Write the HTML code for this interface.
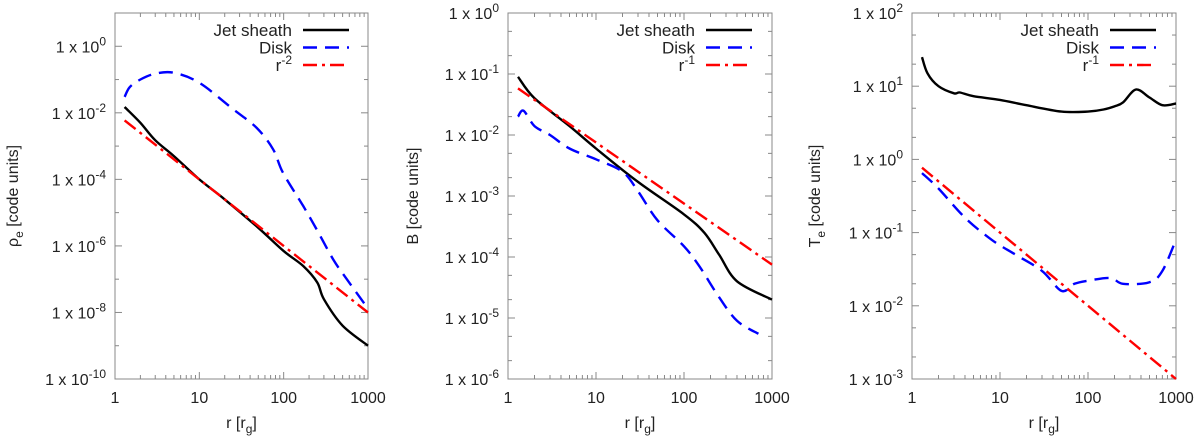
<!DOCTYPE html>
<html><head><meta charset="utf-8"><style>
html,body{margin:0;padding:0;background:#fff;}
svg{display:block;font-family:"Liberation Sans","DejaVu Sans",sans-serif;}
</style></head><body>
<svg id="chart" width="1200" height="442" viewBox="0 0 1200 442" xmlns="http://www.w3.org/2000/svg"></svg>
<script>
// ---- data (r in r_g, values in code units) ----
const rhoJetR = [1.3,2,3,5,10,20,50,100,170,250,300,500,1000];
const rhoJetV = [1.5e-2,5e-3,1.5e-3,5e-4,1e-4,2.5e-5,3.5e-6,7e-7,2.5e-7,8e-8,2.5e-8,4e-9,1e-9];
const rhoDiskR = [1.3,1.5,2,3,5,10,25,48,75,98,170,245,385,560,1000];
const rhoDiskV = [3e-2,6e-2,1e-1,1.5e-1,1.6e-1,8e-2,1.3e-2,3.5e-3,8e-4,1.6e-4,1.6e-5,3.2e-6,4e-7,1e-7,1.3e-8];
const rhoFitR = [1.3,1000];
const rhoFitV = [5.9e-3,1e-8];

const bJetR = [1.3,2,5,10,30,100,170,250,400,1000];
const bJetV = [9e-2,4e-2,1.4e-2,6e-3,1.7e-3,5e-4,2.5e-4,1.1e-4,4e-5,2e-5];
const bDiskR = [1.3,1.5,2,3,5,10,20,30,50,100,150,250,400,700];
const bDiskV = [2e-2,2.5e-2,1.4e-2,1e-2,6e-3,4e-3,2.5e-3,1.2e-3,4e-4,1.5e-4,7e-5,2.2e-5,9e-6,5.5e-6];
const bFitR = [1.3,1000];
const bFitV = [5.8e-2,7.5e-5];

const tJetR = [1.3,1.5,2,3,3.5,5,10,20,50,100,150,200,250,350,500,700,1000];
const tJetV = [25,15,10,8,8.2,7.3,6.5,5.5,4.5,4.5,4.8,5.3,6,9,7,5.5,5.8];
const tDiskR = [1.3,2,4,8,15,30,50,70,100,180,250,500,700,1000];
const tDiskV = [0.65,0.4,0.16,0.08,0.05,0.03,0.016,0.02,0.022,0.024,0.02,0.021,0.03,0.08];
const tFitR = [1.3,1000];
const tFitV = [0.77,1e-3];

const xTicks = [1,10,100,1000];
const rhoTicks = [0,-2,-4,-6,-8,-10];
const bTicks = [0,-1,-2,-3,-4,-5,-6];
const tTicks = [2,1,0,-1,-2,-3];

const NS="http://www.w3.org/2000/svg";
const svg=document.getElementById('chart');
function mk(tag,attrs,parent){const e=document.createElementNS(NS,tag);for(const k in attrs)e.setAttribute(k,attrs[k]);(parent||svg).appendChild(e);return e;}

function smoothPath(p){
  if(p.length<3)return 'M'+p.map(q=>q[0].toFixed(1)+','+q[1].toFixed(1)).join(' L');
  let d='M'+p[0][0].toFixed(1)+','+p[0][1].toFixed(1);
  for(let i=0;i<p.length-1;i++){
    const p0=p[i-1]||p[i],p1=p[i],p2=p[i+1],p3=p[i+2]||p2;
    const c1=[p1[0]+(p2[0]-p0[0])/6,p1[1]+(p2[1]-p0[1])/6];
    const c2=[p2[0]-(p3[0]-p1[0])/6,p2[1]-(p3[1]-p1[1])/6];
    d+=` C${c1[0].toFixed(1)},${c1[1].toFixed(1)} ${c2[0].toFixed(1)},${c2[1].toFixed(1)} ${p2[0].toFixed(1)},${p2[1].toFixed(1)}`;
  }
  return d;
}

function panel(o){
  const g=mk('g',{});
  
  
  const X=r=>o.x0+(Math.log10(r))/3*(o.x1-o.x0);
  const Y=v=>o.y0+(o.ymax-Math.log10(v))/(o.ymax-o.ymin)*(o.y1-o.y0);
  const fr=mk('rect',{x:o.x0,y:o.y0,width:o.x1-o.x0,height:o.y1-o.y0,fill:'none',stroke:'#888','stroke-width':1},g);
  
  
  for(let d=0;d<3;d++)for(let m=1;m<=9;m++){
    const xx=X(m*Math.pow(10,d));const L=m==1?7:4;
    mk('line',{x1:xx,x2:xx,y1:o.y1,y2:o.y1-L,stroke:'#888'},g);
    mk('line',{x1:xx,x2:xx,y1:o.y0,y2:o.y0+L,stroke:'#888'},g);
  }
  xTicks.forEach(t=>{
    const tx=mk('text',{x:X(t),y:o.y1+24,'text-anchor':'middle','font-size':16,fill:'#222'},g);
    tx.textContent=String(t);
    
    
  });
  for(let p=o.ymin;p<=o.ymax;p++){
    const yy=Y(Math.pow(10,p));
    const major=o.ticks.includes(p);
    const L=major?7:4;
    mk('line',{x1:o.x0,x2:o.x0+L,y1:yy,y2:yy,stroke:'#888'},g);
    mk('line',{x1:o.x1,x2:o.x1-L,y1:yy,y2:yy,stroke:'#888'},g);
    if(o.minor25&&p<o.ymax){[2,5].forEach(m=>{const y2=Y(m*Math.pow(10,p));
      mk('line',{x1:o.x0,x2:o.x0+4,y1:y2,y2:y2,stroke:'#888'},g);
      mk('line',{x1:o.x1,x2:o.x1-4,y1:y2,y2:y2,stroke:'#888'},g);});}
  }
  o.ticks.forEach(p=>{
    const yy=Y(Math.pow(10,p));
    const tx=mk('text',{x:o.x0-9,y:yy+6,'text-anchor':'end','font-size':16,fill:'#222'},g);
    
    
    tx.innerHTML='1 x 10<tspan dy="-7" font-size="12">'+p+'</tspan>';
  });
  const xt=mk('text',{x:(o.x0+o.x1)/2,y:o.y1+49,'text-anchor':'middle','font-size':16,fill:'#222'},g);
  xt.innerHTML='r [r<tspan dy="5" font-size="12">g</tspan><tspan dy="-5">]</tspan>';
  
  
  const yt=mk('text',{x:0,y:0,'text-anchor':'middle','font-size':16,fill:'#222',transform:`translate(${o.ytx},${(o.y0+o.y1)/2}) rotate(-90)`},g);
  yt.innerHTML=o.ytitle;
  
  
  const styles=[{c:'#000',d:'none',n:'jet-sheath-line'},{c:'#0000ff',d:'14 8',n:'disk-line'},{c:'#ff0000',d:'14 5 3 5',n:'fit-line'}];
  o.series.forEach((s,i)=>{
    const pts=s[0].map((r,k)=>[X(r),Y(s[1][k])]);
    const pl=mk('path',{d:smoothPath(pts),fill:'none',stroke:styles[i].c,'stroke-width':2.4,'stroke-dasharray':styles[i].d,'stroke-linejoin':'round'},g);
    
    
  });
  const labels=['Jet sheath','Disk',o.fitlabel];
  labels.forEach((l,i)=>{
    const yy=o.y0+17+i*17.5;
    const tx=mk('text',{x:o.lx,y:yy+6,'text-anchor':'end','font-size':17,fill:'#222'},g);
    tx.innerHTML=l;
    
    
    const ln=mk('line',{x1:o.lx+11,x2:o.lx+57,y1:yy,y2:yy,stroke:styles[i].c,'stroke-width':2.4,'stroke-dasharray':styles[i].d},g);
    
    
  });
}

panel({name:'density-panel',x0:115,x1:368,y0:13,y1:379,ymin:-10,ymax:1,ticks:rhoTicks,ytx:18,
  ytitle:'ρ<tspan dy="5" font-size="12">e</tspan><tspan dy="-5"> [code units]</tspan>',
  series:[[rhoJetR,rhoJetV],[rhoDiskR,rhoDiskV],[rhoFitR,rhoFitV]],fitlabel:'r<tspan dy="-7" font-size="12">-2</tspan>',lx:292});
panel({name:'magnetic-field-panel',x0:508,x1:772,y0:13,y1:379,ymin:-6,ymax:0,ticks:bTicks,ytx:418,minor25:true,
  ytitle:'B [code units]',
  series:[[bJetR,bJetV],[bDiskR,bDiskV],[bFitR,bFitV]],fitlabel:'r<tspan dy="-7" font-size="12">-1</tspan>',lx:695});
panel({name:'temperature-panel',x0:912,x1:1176,y0:13,y1:379,ymin:-3,ymax:2,ticks:tTicks,ytx:820,minor25:true,
  ytitle:'T<tspan dy="5" font-size="12">e</tspan><tspan dy="-5"> [code units]</tspan>',
  series:[[tJetR,tJetV],[tDiskR,tDiskV],[tFitR,tFitV]],fitlabel:'r<tspan dy="-7" font-size="12">-1</tspan>',lx:1099});
</script>
</body></html>
